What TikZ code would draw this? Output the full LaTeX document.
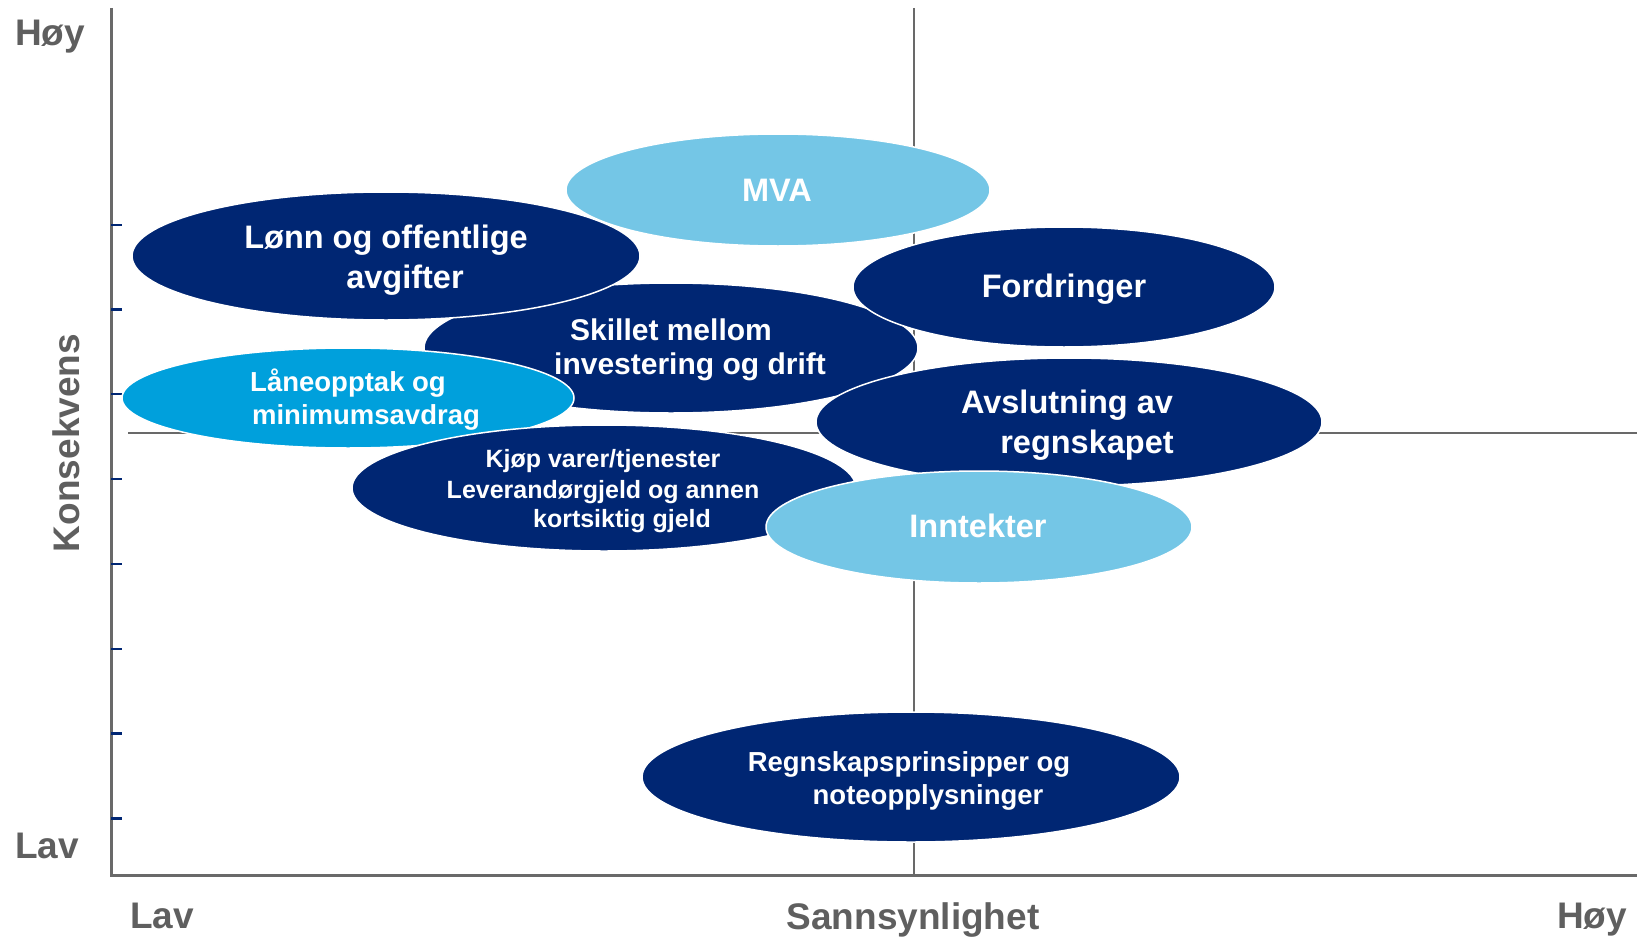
\documentclass[tikz,border=0pt]{standalone}
\usepackage{fontspec}
\setmainfont{Liberation Sans}
\usetikzlibrary{shapes.geometric}
\definecolor{navy}{RGB}{0,38,115}
\definecolor{lightblue}{RGB}{116,198,230}
\definecolor{midblue}{RGB}{0,160,220}
\definecolor{axisgray}{RGB}{105,105,105}
\definecolor{labelgray}{RGB}{95,95,95}
\begin{document}
\begin{tikzpicture}[x=1pt,y=-1pt,
  blob/.style={ellipse, draw=white, line width=1.5pt, inner sep=0pt},
  darkblob/.style={blob, fill=navy},
  lightblob/.style={blob, fill=lightblue},
  midblob/.style={blob, fill=midblue},
  lbl/.style={text=white, inner sep=0pt, anchor=base},
  fA/.style={lbl, font=\fontsize{32.5}{38}\selectfont\bfseries},
  fB/.style={lbl, font=\fontsize{30}{36}\selectfont\bfseries},
  fC/.style={lbl, font=\fontsize{27.5}{33}\selectfont\bfseries},
  fD/.style={lbl, font=\fontsize{25}{30}\selectfont\bfseries},
  axislbl/.style={text=labelgray, inner sep=0pt, font=\fontsize{37}{42}\selectfont\bfseries},
  mainaxis/.style={draw=axisgray, line width=3pt},
  midline/.style={draw=axisgray, line width=2pt},
  tick/.style={draw=navy, line width=2.5pt}
]
\useasboundingbox (0,0) rectangle (1637,939);

% axes
\coordinate (ytop) at (111,8);
\coordinate (orig) at (111,875);
\coordinate (xend) at (1637,875);
\coordinate (mhL) at (128,433);
\coordinate (mhR) at (1637,433);
\coordinate (mvT) at (914,8);
\coordinate (mvB) at (914,875);
\draw[midline] (mhL) -- (mhR);
\draw[midline] (mvT) -- (mvB);
\draw[mainaxis] (ytop) -- (orig) -- (xend);
\foreach \yy in {225,309.5,394,479,564,649,733.5,818.5}
  \draw[tick] (111,\yy) -- (122,\yy);

% axis labels
\node[axislbl, anchor=base west] (hoyL) at (15,46) {Høy};
\node[axislbl, anchor=base west] (lavL) at (15,858) {Lav};
\node[axislbl, anchor=base west] (lavB) at (130,928) {Lav};
\node[axislbl, anchor=base west] (hoyB) at (1557,928) {Høy};
\node[axislbl, anchor=base] (sann) at (913,929) {Sannsynlighet};
\node[axislbl, anchor=base, rotate=90] (kons) at (79,443) {Konsekvens};

% ellipses
\node[darkblob, minimum width=494pt, minimum height=130pt] (skillet) at (671,348) {};
\node[darkblob, minimum width=508pt, minimum height=128pt] (lonn) at (386,256) {};
\node[midblob, minimum width=452pt, minimum height=100pt] (lane) at (348,398) {};
\node[darkblob, minimum width=422pt, minimum height=120pt] (ford) at (1064,287) {};
\node[darkblob, minimum width=506pt, minimum height=128pt] (avsl) at (1069,422) {};
\node[darkblob, minimum width=504pt, minimum height=126pt] (kjop) at (604,488) {};
\node[lightblob, minimum width=426pt, minimum height=112pt] (innt) at (979,527) {};
\node[lightblob, minimum width=424pt, minimum height=112pt] (mva) at (778,190) {};
\node[darkblob, minimum width=538pt, minimum height=130pt] (regn) at (911,777) {};

% texts
\node[fA] (mvaT) at (777,201.5) {MVA};
\node[fA] (lonnT1) at (386,248.5) {Lønn og offentlige};
\node[fA] (lonnT2) at (405,288.5) {avgifter};
\node[fA] (fordT) at (1064,297.5) {Fordringer};
\node[fB] (skilT1) at (671,340) {Skillet mellom};
\node[fB] (skilT2) at (690,374) {investering og drift};
\node[fC] (laneT1) at (348,391) {Låneopptak og};
\node[fC] (laneT2) at (366,424) {minimumsavdrag};
\node[fA] (avslT1) at (1067,413.5) {Avslutning av};
\node[fA] (avslT2) at (1087,453.5) {regnskapet};
\node[fD] (kjopT1) at (603,467) {Kjøp varer/tjenester};
\node[fD] (kjopT2) at (603,498) {Leverandørgjeld og annen};
\node[fD] (kjopT3) at (622,527) {kortsiktig gjeld};
\node[fA] (inntT) at (978,537.5) {Inntekter};
\node[fC] (regnT1) at (909,771) {Regnskapsprinsipper og};
\node[fC] (regnT2) at (928,804) {noteopplysninger};
\end{tikzpicture}
\end{document}
